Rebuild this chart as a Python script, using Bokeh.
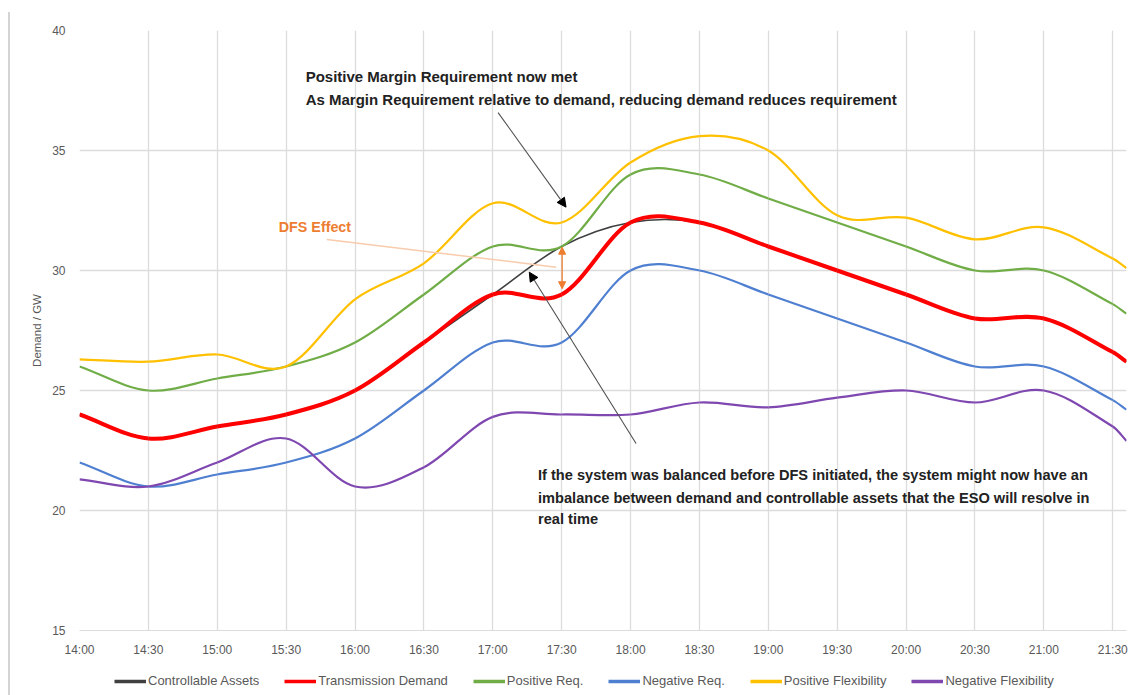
from bokeh.plotting import figure
from bokeh.models import (Range1d, FixedTicker, Legend, LegendItem, Arrow,
                          NormalHead, Label, ColumnDataSource, Div)
from bokeh.layouts import row, column
from bokeh.embed import file_html
from bokeh.resources import INLINE

# Half-hourly profile (GW); the last entry is the value at the right-hand edge of the axis
times = ["14:00", "14:30", "15:00", "15:30", "16:00", "16:30", "17:00", "17:30",
         "18:00", "18:30", "19:00", "19:30", "20:00", "20:30", "21:00", "21:30", "21:36"]
tick_labels = ["14:00", "14:30", "15:00", "15:30", "16:00", "16:30", "17:00", "17:30",
               "18:00", "18:30", "19:00", "19:30", "20:00", "20:30", "21:00", "21:30"]

controllable_assets = [24, 23, 23.5, 24, 25, 27, 29, 31, 32, 32, 31, 30, 29, 28, 28, 26.6, 26.2]
transmission_demand = [24, 23, 23.5, 24, 25, 27, 29, 29, 32, 32, 31, 30, 29, 28, 28, 26.6, 26.2]
positive_req = [26, 25, 25.5, 26, 27, 29, 31, 31, 34, 34, 33, 32, 31, 30, 30, 28.6, 28.2]
negative_req = [22, 21, 21.5, 22, 23, 25, 27, 27, 30, 30, 29, 28, 27, 26, 26, 24.6, 24.2]
positive_flex = [26.3, 26.2, 26.5, 26, 28.8, 30.3, 32.8, 32, 34.5, 35.6, 35, 32.3, 32.2, 31.3, 31.8, 30.5, 30.1]
negative_flex = [21.3, 21, 22, 23, 21, 21.8, 23.9, 24, 24, 24.5, 24.3, 24.7, 25, 24.5, 25, 23.5, 22.9]

y_ticks = [15, 20, 25, 30, 35, 40]


def minutes(t):
    h, m = t.split(":")
    return (int(h) - 14) * 60 + int(m)


x = [minutes(t) for t in times]


def smooth_source(xs, ys):
    """Cubic Bezier segments through every point (Hermite tangents)."""
    n = len(xs)
    slopes = []
    for i in range(n):
        a, b = max(i - 1, 0), min(i + 1, n - 1)
        slopes.append((ys[b] - ys[a]) / (xs[b] - xs[a]))
    d = dict(x0=[], y0=[], x1=[], y1=[], cx0=[], cy0=[], cx1=[], cy1=[])
    for i in range(n - 1):
        h = xs[i + 1] - xs[i]
        d["x0"].append(xs[i]); d["y0"].append(ys[i])
        d["x1"].append(xs[i + 1]); d["y1"].append(ys[i + 1])
        d["cx0"].append(xs[i] + h / 3); d["cy0"].append(ys[i] + slopes[i] * h / 3)
        d["cx1"].append(xs[i + 1] - h / 3); d["cy1"].append(ys[i + 1] - slopes[i + 1] * h / 3)
    return ColumnDataSource(d)


FONT = "Liberation Sans"
GREY = "#595959"

p = figure(width=1132, height=665, x_range=Range1d(0, minutes(times[-1])),
           y_range=Range1d(15, 40), output_backend="svg", toolbar_location=None,
           min_border_left=69, min_border_right=16, min_border_top=30,
           min_border_bottom=35)
p.outline_line_color = None
p.background_fill_color = "white"
p.border_fill_color = "white"

tick_pos = [minutes(t) for t in tick_labels]
p.xaxis.ticker = FixedTicker(ticks=tick_pos)
p.xaxis.major_label_overrides = {m: t for m, t in zip(tick_pos, tick_labels)}
p.yaxis.ticker = FixedTicker(ticks=y_ticks)
p.xgrid.ticker = FixedTicker(ticks=tick_pos)
p.ygrid.ticker = FixedTicker(ticks=y_ticks)
for g in (p.xgrid, p.ygrid):
    g.grid_line_color = "#DCDCDC"
    g.grid_line_width = 1.3

for ax in (p.xaxis, p.yaxis):
    ax.major_tick_line_color = None
    ax.minor_tick_line_color = None
    ax.major_label_text_font = FONT
    ax.major_label_text_font_size = "12px"
    ax.major_label_text_color = GREY
p.xaxis.axis_line_color = "#DCDCDC"
p.yaxis.axis_line_color = None
p.xaxis.major_label_standoff = 6
p.yaxis.major_label_standoff = 8
p.yaxis.axis_label = "Demand / GW"
p.yaxis.axis_label_text_font = FONT
p.yaxis.axis_label_text_font_size = "11.5px"
p.yaxis.axis_label_text_font_style = "normal"
p.yaxis.axis_label_text_color = GREY
p.yaxis.axis_label_standoff = 6

series = [
    ("Controllable Assets", controllable_assets, "#404040", 1.6),
    ("Transmission Demand", transmission_demand, "#FF0000", 4.0),
    ("Positive Req.", positive_req, "#70AD47", 2.2),
    ("Negative Req.", negative_req, "#4F7FD0", 2.2),
    ("Positive Flexibility", positive_flex, "#FFC000", 2.2),
    ("Negative Flexibility", negative_flex, "#7F47B0", 2.2),
]

for name, ys, color, width in series:
    p.bezier(x0="x0", y0="y0", x1="x1", y1="y1", cx0="cx0", cy0="cy0",
             cx1="cx1", cy1="cy1", source=smooth_source(x, ys),
             line_color=color, line_width=width)

# Legend row, drawn in its own strip under the chart (its frame lines up with the chart's);
# the series lines here fall outside the strip's ranges, only their legend swatches show
key = figure(width=1132, height=30, x_range=Range1d(0, 1), y_range=Range1d(0, 1),
             x_axis_type=None, y_axis_type=None, output_backend="svg",
             toolbar_location=None, min_border=0)
key.outline_line_color = None
key.grid.visible = False
items = []
for name, ys, color, width in series:
    swatch = key.line(x=x, y=ys, line_color=color, line_width=3.5)
    items.append(LegendItem(label=name, renderers=[swatch]))
legend = Legend(items=items, orientation="horizontal", location=(35, 7),
                glyph_width=32, glyph_height=14, label_height=14,
                label_standoff=2, spacing=25, padding=0, margin=0,
                border_line_color=None, background_fill_alpha=0,
                label_text_font=FONT, label_text_font_size="13px",
                label_text_color=GREY)
key.add_layout(legend)

# Annotations
TXT = "#222222"
ORANGE = "#ED7D31"


def note(xm, y, text, color=TXT, size="14.6px"):
    p.add_layout(Label(x=xm, y=y, text=text, text_font=FONT, text_font_size=size,
                       text_font_style="bold", text_color=color,
                       text_baseline="middle", text_align="left"))


note(98.5, 38.08, "Positive Margin Requirement now  met", size="15px")
note(98.5, 37.12, "As Margin Requirement relative to demand, reducing demand reduces requirement", size="15px")
note(86.8, 31.83, "DFS Effect", color=ORANGE, size="14.3px")
note(199.7, 21.46, "If the system was balanced before DFS initiated, the system might now have an")
note(199.7, 20.54, "imbalance between demand and controllable assets that the ESO will resolve in")
note(199.7, 19.63, "real time")

p.add_layout(Arrow(x_start=182.3, y_start=36.58, x_end=211.9, y_end=32.64,
                   line_color="#505050", line_width=1.1,
                   end=NormalHead(size=9, fill_color="black", line_color="black")))
p.add_layout(Arrow(x_start=242.4, y_start=22.79, x_end=195.9, y_end=29.93,
                   line_color="#505050", line_width=1.1,
                   end=NormalHead(size=9, fill_color="black", line_color="black")))
p.add_layout(Arrow(x_start=107.7, y_start=31.29, x_end=207.6, y_end=30.14,
                   line_color="#F8CBAD", line_width=1.5, end=None))
p.add_layout(Arrow(x_start=210.2, y_start=30.97, x_end=210.2, y_end=29.24,
                   line_color=ORANGE, line_width=1.3,
                   start=NormalHead(size=7, fill_color=ORANGE, line_color=ORANGE),
                   end=NormalHead(size=7, fill_color=ORANGE, line_color=ORANGE)))

edge = Div(text="", width=10, height=683, margin=(12, 0, 0, 0),
           styles={"border-right": "2px solid #D4D4D4", "box-sizing": "border-box"})

layout = row(edge, column(p, key, spacing=0))
open("out.html", "w").write(file_html(layout, INLINE))
